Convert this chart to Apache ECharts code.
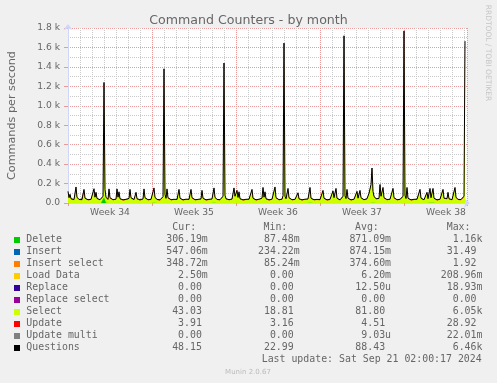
<!DOCTYPE html>
<html>
<head>
<meta charset="utf-8">
<script src="https://cdn.jsdelivr.net/npm/echarts@6/dist/echarts.min.js"></script>
<style>
html,body{margin:0;padding:0;background:#f0f0f0;}
#chart{width:497px;height:383px;}
</style>
</head>
<body>
<div id="chart"></div>
<script>
// ---------------- text ----------------
const chartTitle = 'Command Counters - by month';
const yAxisTitle = 'Commands per second';
const yTickLabels = ['0.0', '0.2 k', '0.4 k', '0.6 k', '0.8 k', '1.0 k', '1.2 k', '1.4 k', '1.6 k', '1.8 k'];
const weekLabels = ['Week 34', 'Week 35', 'Week 36', 'Week 37', 'Week 38'];
const lastUpdate = 'Last update: Sat Sep 21 02:00:17 2024';
const footer = 'Munin 2.0.67';
const watermark = 'RRDTOOL / TOBI OETIKER';

// ---------------- time base ----------------
// x = hours since Mon 19 Aug 00:00; main series sampled every 2 h, small series daily
const sampleStepHours = 2;
const dailyStepHours = 24;

// ---------------- main series (commands per second) ----------------
const questions = [
120,55,90,45,40,38,36,42,165,60,40,37,35,34,36,39,140,50,38,36,
34,33,35,38,41,44,147,60,110,48,40,36,34,33,35,70,1240,140,60,42,
38,145,55,40,36,34,35,37,40,145,60,115,45,38,35,33,34,36,38,41,
43,48,140,55,42,38,36,40,110,45,37,34,33,35,38,42,145,55,40,36,
34,33,35,38,40,45,155,60,42,37,35,34,33,36,40,65,1380,90,48,145,
55,40,36,34,33,35,38,41,39,37,44,140,50,38,35,33,34,36,39,42,
40,38,45,140,55,40,36,34,33,35,37,40,38,43,130,50,39,35,33,34,
36,38,41,39,42,46,155,60,42,37,35,33,34,36,40,70,1440,80,45,38,
36,34,35,38,41,48,155,70,52,130,58,115,45,38,35,33,34,36,38,40,
37,39,42,46,140,50,38,35,33,34,36,39,42,45,50,160,60,115,45,38,
35,33,34,36,39,42,48,165,55,40,36,34,33,35,40,75,1645,70,44,42,
150,55,40,36,34,33,35,38,41,45,105,44,38,35,33,34,36,39,41,44,
42,48,160,50,39,36,34,33,35,37,40,38,36,39,45,130,50,38,35,33,
34,36,38,41,46,125,55,48,150,50,38,35,33,34,40,70,1720,75,46,140,
50,38,35,33,34,36,39,42,47,120,50,46,130,55,40,36,34,35,38,45,
60,100,85,190,360,120,70,52,44,40,42,48,190,70,50,160,55,42,37,35,
34,36,39,42,47,150,55,40,36,34,33,35,38,41,45,70,1770,80,46,160,
50,38,35,33,34,36,38,40,43,39,42,47,140,50,38,35,34,36,44,110,
45,48,150,55,46,150,50,38,35,33,34,36,39,42,46,140,50,40,38,45,
110,44,38,35,34,38,45,160,60,42,37,35,34,36,40,48,70,1665
];
const selectVals = [
111,48,81,38,33,31,29,35,156,53,33,30,28,27,29,32,131,43,31,29,
27,26,28,31,34,37,138,53,101,41,33,29,27,26,28,62,1150,75,50,35,
31,136,48,33,29,27,28,30,33,136,53,106,38,31,28,26,27,29,31,34,
36,41,131,48,35,31,29,33,101,38,30,27,26,28,31,35,136,48,33,29,
27,26,28,31,33,38,146,53,35,30,28,27,26,29,33,57,1355,80,41,136,
48,33,29,27,26,28,31,34,32,30,37,131,43,31,28,26,27,29,32,35,
33,31,38,131,48,33,29,27,26,28,30,33,31,36,121,43,32,28,26,27,
29,31,34,32,35,39,146,53,35,30,28,26,27,29,33,62,1415,70,38,31,
29,27,28,31,34,41,146,62,45,121,50,106,38,31,28,26,27,29,31,33,
30,32,35,39,131,43,31,28,26,27,29,32,35,38,43,151,53,106,38,31,
28,26,27,29,32,35,41,156,48,33,29,27,26,28,33,66,1620,61,37,35,
141,48,33,29,27,26,28,31,34,38,96,37,31,28,26,27,29,32,34,37,
35,41,151,43,32,29,27,26,28,30,33,31,29,32,38,121,43,31,28,26,
27,29,31,34,39,116,48,41,141,43,31,28,26,27,33,62,1695,66,39,131,
43,31,28,26,27,29,32,35,40,111,43,39,121,48,33,29,27,28,31,38,
53,92,78,181,348,111,63,45,37,33,35,41,181,62,43,151,48,35,30,28,
27,29,32,35,40,141,48,33,29,27,26,28,31,34,38,62,1745,70,39,151,
43,31,28,26,27,29,31,33,36,32,35,40,131,43,31,28,27,29,37,101,
38,41,141,48,39,141,43,31,28,26,27,29,32,35,39,131,43,33,31,38,
101,37,31,28,27,31,38,151,53,35,30,28,27,29,33,41,62,1640
];
const deleteVals = [
1.2,0.8,0.9,0.7,0.6,0.5,0.4,0.5,1.4,0.9,0.6,0.5,0.4,0.4,0.5,0.6,1.1,0.8,0.6,0.5,
0.4,0.4,0.5,0.6,0.7,0.8,1.3,0.9,1.0,0.7,0.6,0.5,0.4,0.4,0.5,1.5,60,55,3.0,0.7,
0.6,1.2,0.8,0.6,0.5,0.4,0.4,0.5,0.6,1.3,0.9,1.0,0.7,0.6,0.5,0.4,0.4,0.5,0.6,0.7,
0.7,0.8,1.2,0.8,0.6,0.5,0.4,0.6,1.0,0.7,0.5,0.4,0.4,0.5,0.6,0.7,1.3,0.8,0.6,0.5,
0.4,0.4,0.5,0.6,0.6,0.7,1.4,0.9,0.6,0.5,0.5,0.4,0.4,0.5,0.6,0.9,2.1,1.1,0.7,1.3,
0.8,0.6,0.5,0.4,0.4,0.5,0.6,0.7,0.6,0.5,0.7,1.2,0.8,0.6,0.5,0.4,0.4,0.5,0.6,0.7,
0.6,0.6,0.7,1.2,0.8,0.6,0.5,0.4,0.4,0.5,0.5,0.6,0.6,0.7,1.1,0.8,0.6,0.5,0.4,0.4,
0.5,0.6,0.7,0.6,0.7,0.8,1.4,0.9,0.6,0.5,0.5,0.4,0.4,0.5,0.6,1.0,2.3,1.2,0.7,0.6,
0.5,0.4,0.5,0.6,0.7,0.8,1.3,1.0,0.8,1.1,0.9,1.0,0.7,0.6,0.5,0.4,0.4,0.5,0.6,0.6,
0.5,0.6,0.7,0.7,1.2,0.8,0.6,0.5,0.4,0.4,0.5,0.6,0.7,0.7,0.8,1.4,0.9,1.0,0.7,0.6,
0.5,0.4,0.4,0.5,0.6,0.7,0.8,1.4,0.8,0.6,0.5,0.4,0.4,0.5,0.6,1.1,2.4,1.0,0.7,0.7,
1.3,0.8,0.6,0.5,0.4,0.4,0.5,0.6,0.7,0.7,0.9,0.7,0.6,0.5,0.4,0.4,0.5,0.6,0.6,0.7,
0.7,0.8,1.4,0.8,0.6,0.5,0.4,0.4,0.5,0.6,0.6,0.6,0.5,0.6,0.7,1.1,0.8,0.6,0.5,0.4,
0.4,0.5,0.6,0.7,0.8,1.1,0.8,0.8,1.3,0.8,0.6,0.5,0.4,0.4,0.6,1.0,2.5,1.1,0.7,1.2,
0.8,0.6,0.5,0.4,0.4,0.5,0.6,0.7,0.8,1.0,0.8,0.7,1.1,0.8,0.6,0.5,0.4,0.5,0.6,0.7,
0.9,1.4,1.2,2.2,3.6,1.5,1.0,0.8,0.7,0.6,0.7,0.8,2.0,1.0,0.8,1.4,0.8,0.6,0.5,0.5,
0.4,0.5,0.6,0.7,0.8,1.3,0.8,0.6,0.5,0.4,0.4,0.5,0.6,0.7,0.7,1.0,2.6,1.2,0.7,1.4,
0.8,0.6,0.5,0.4,0.4,0.5,0.6,0.6,0.7,0.6,0.7,0.8,1.2,0.8,0.6,0.5,0.4,0.5,0.7,1.0,
0.7,0.8,1.3,0.8,0.7,1.3,0.8,0.6,0.5,0.4,0.4,0.5,0.6,0.7,0.8,1.2,0.8,0.6,0.6,0.7,
1.0,0.7,0.6,0.5,0.4,0.6,0.7,1.4,0.9,0.6,0.5,0.5,0.4,0.5,0.6,0.7,1.0,2.4
];
const updateVals = [
4.8,4.2,4.5,4.0,3.8,3.6,3.5,3.7,5.2,4.4,3.9,3.7,3.5,3.4,3.5,3.8,5.0,4.3,3.9,3.7,
3.5,3.4,3.5,3.7,3.9,4.1,5.1,4.4,4.8,4.1,3.9,3.6,3.5,3.4,3.5,4.6,18.5,6.2,4.5,4.0,
3.8,5.0,4.3,3.9,3.6,3.5,3.5,3.7,3.9,5.1,4.4,4.8,4.1,3.8,3.5,3.4,3.4,3.6,3.8,4.0,
4.1,4.3,5.0,4.4,4.0,3.8,3.6,3.9,4.7,4.1,3.7,3.5,3.4,3.5,3.8,4.0,5.1,4.4,3.9,3.6,
3.5,3.4,3.5,3.7,3.9,4.2,5.3,4.5,4.0,3.7,3.5,3.4,3.4,3.6,3.9,4.8,21.3,5.4,4.2,5.0,
4.4,3.9,3.6,3.5,3.4,3.5,3.7,4.0,3.9,3.7,4.1,5.0,4.3,3.8,3.5,3.4,3.4,3.6,3.8,4.0,
3.9,3.8,4.2,5.0,4.4,3.9,3.6,3.5,3.4,3.5,3.6,3.9,3.8,4.1,4.9,4.3,3.8,3.5,3.4,3.4,
3.6,3.8,4.0,3.9,4.1,4.3,5.3,4.5,4.0,3.7,3.5,3.4,3.4,3.6,3.9,4.9,24.1,5.6,4.3,3.8,
3.6,3.5,3.5,3.8,4.0,4.4,5.3,4.8,4.3,5.0,4.5,4.8,4.1,3.8,3.5,3.4,3.4,3.6,3.8,3.9,
3.7,3.9,4.1,4.3,5.0,4.3,3.8,3.5,3.4,3.4,3.6,3.9,4.1,4.3,4.5,5.2,4.5,4.8,4.1,3.8,
3.5,3.4,3.4,3.6,3.9,4.1,4.4,5.4,4.4,3.9,3.6,3.4,3.4,3.5,3.9,5.0,26.8,5.3,4.2,4.1,
5.1,4.4,3.9,3.6,3.4,3.4,3.5,3.8,4.0,4.3,4.8,4.2,3.8,3.5,3.4,3.4,3.6,3.9,4.0,4.2,
4.1,4.4,5.3,4.3,3.9,3.6,3.4,3.4,3.5,3.7,3.9,3.8,3.6,3.9,4.3,4.9,4.3,3.8,3.5,3.4,
3.4,3.6,3.8,4.0,4.3,4.9,4.4,4.4,5.1,4.3,3.8,3.5,3.4,3.4,3.9,4.9,28.9,5.5,4.3,5.0,
4.3,3.8,3.5,3.4,3.4,3.6,3.9,4.1,4.4,4.8,4.3,4.2,4.9,4.4,3.9,3.6,3.4,3.5,3.8,4.2,
4.7,5.4,5.0,6.8,9.6,5.3,4.8,4.4,4.2,3.9,4.1,4.4,6.2,4.8,4.4,5.2,4.4,4.0,3.7,3.5,
3.4,3.6,3.9,4.1,4.4,5.2,4.4,3.9,3.6,3.4,3.4,3.5,3.8,4.0,4.3,4.8,27.5,5.6,4.3,5.2,
4.4,3.8,3.5,3.4,3.4,3.6,3.8,3.9,4.1,3.9,4.1,4.4,5.0,4.3,3.8,3.5,3.4,3.6,4.2,4.8,
4.3,4.4,5.2,4.4,4.3,5.2,4.3,3.8,3.5,3.4,3.4,3.6,3.9,4.1,4.3,5.0,4.3,3.9,3.8,4.2,
4.8,4.2,3.8,3.5,3.4,3.8,4.2,5.2,4.5,4.0,3.7,3.5,3.4,3.6,3.9,4.4,4.8,25.0
];

// ---------------- small series (daily readings) ----------------
const insertVals = [0.62,0.88,1.05,0.93,0.71,0.84,1.12,0.97,0.76,0.69,0.91,1.08,0.95,0.82,0.73,0.88,1.02,0.94,0.79,0.67,0.86,1.10,0.98,0.81,0.72,0.90,1.04,0.92,0.77,0.70,0.89,1.06,0.85,0.55];
const insertSelectVals = [0.31,0.42,0.38,0.35,0.40,0.33,0.45,0.39,0.36,0.34,0.41,0.37,0.32,0.43,0.38,0.36,0.39,0.35,0.42,0.33,0.37,0.40,0.36,0.38,0.34,0.41,0.39,0.35,0.37,0.40,0.33,0.38,0.36,0.35];
const loadDataVals = [0.005,0.007,0.006,0.004,0.008,0.006,0.005,0.007,0.006,0.009,0.005,0.006,0.007,0.004,0.006,0.008,0.005,0.006,0.007,0.005,0.006,0.004,0.007,0.006,0.008,0.005,0.006,0.007,0.005,0.006,0.004,0.007,0.006,0.003];
const replaceVals = [0,0,0,0,0,0,0,0,0,0,0,0,0.0004,0,0,0,0,0,0,0,0,0,0,0,0,0,0,0,0,0,0,0,0,0];
const replaceSelectVals = [0,0,0,0,0,0,0,0,0,0,0,0,0,0,0,0,0,0,0,0,0,0,0,0,0,0,0,0,0,0,0,0,0,0];
const updateMultiVals = [0,0,0,0,0,0,0,0,0,0,0,0,0,0,0,0,0,0,0,0,0.0003,0,0,0,0,0,0,0,0,0,0,0,0,0];

// ---------------- legend table ----------------
const legendNames = ['Delete','Insert','Insert select','Load Data','Replace','Replace select','Select','Update','Update multi','Questions'];
const legendColors = ['#00cc00','#0066b3','#ff8000','#ffcc00','#330099','#990099','#ccff00','#ff0000','#808080','#000000'];
const legendHeaders = ['Cur:','Min:','Avg:','Max:'];
const curVals = ['306.19m','547.06m','348.72m','2.50m','0.00','0.00','43.03','3.91','0.00','48.15'];
const minVals = ['87.48m','234.22m','85.24m','0.00','0.00','0.00','18.81','3.16','0.00','22.99'];
const avgVals = ['871.09m','874.15m','374.60m','6.20m','12.50u','0.00','81.80','4.51','9.03u','88.43'];
const maxVals = ['1.16k','31.49','1.92','208.96m','18.93m','0.00','6.05k','28.92','22.01m','6.46k'];

// ---------------- build ----------------
const FONT = 'DejaVu Sans';
const MONO = 'DejaVu Sans Mono';
const TXT = '#666666';
const AXISC = '#cfd6f8';
const MGRID = '#eb9a9a';
const GRID = '#c9c9c9';

const toXY = (vals, step) => vals.map((v, i) => [i * step, v]);
const layerDS = selectVals.map((v, i) => v + deleteVals[i]);
const layerDSU = layerDS.map((v, i) => v + updateVals[i]);

function areaSeries(name, xy, color) {
  return {
    name: name, type: 'line', data: xy, symbol: 'none', showSymbol: false,
    lineStyle: { width: 0, color: color }, itemStyle: { color: color },
    areaStyle: { color: color, opacity: 1 }, silent: true, sampling: null
  };
}

const series = [
  areaSeries('Update multi', toXY(updateMultiVals, dailyStepHours), legendColors[8]),
  areaSeries('Replace select', toXY(replaceSelectVals, dailyStepHours), legendColors[5]),
  areaSeries('Replace', toXY(replaceVals, dailyStepHours), legendColors[4]),
  areaSeries('Load Data', toXY(loadDataVals, dailyStepHours), legendColors[3]),
  areaSeries('Insert select', toXY(insertSelectVals, dailyStepHours), legendColors[2]),
  areaSeries('Insert', toXY(insertVals, dailyStepHours), legendColors[1]),
  areaSeries('Update', toXY(layerDSU, sampleStepHours), legendColors[7]),
  areaSeries('Select', toXY(layerDS, sampleStepHours), legendColors[6]),
  areaSeries('Delete', toXY(deleteVals, sampleStepHours), legendColors[0]),
  {
    name: 'Questions', type: 'line', data: toXY(questions, sampleStepHours),
    symbol: 'none', showSymbol: false, silent: true,
    lineStyle: { width: 1, color: '#000000' }, itemStyle: { color: '#000000' }
  }
];

// legend table graphics
const graphics = [];
const rowY0 = 239.6, rowStep = 12;
const colStart = [166.2, 258.0, 349.4, 440.8];
const headerX = [172.3, 263.5, 355.0, 446.7];
const monoFont = '9.9px "' + MONO + '"';
function monoText(x, y, text) {
  graphics.push({ type: 'text', x: x, y: y, silent: true,
    style: { text: text, font: monoFont, fill: TXT, textAlign: 'left', textVerticalAlign: 'middle' } });
}
function fmt(v) { return (/[0-9]$/.test(v) ? v + ' ' : v).padStart(7, ' '); }
legendHeaders.forEach((h, j) => monoText(headerX[j], 227.5, h));
legendNames.forEach((n, i) => {
  const y = rowY0 + rowStep * i;
  graphics.push({ type: 'rect', silent: true, shape: { x: 14, y: Math.round(y) - 3, width: 6, height: 6 },
    style: { fill: legendColors[i] } });
  monoText(26.3, y, n);
  [curVals, minVals, avgVals, maxVals].forEach((arr, j) => monoText(colStart[j], y, fmt(arr[i])));
});
monoText(261.7, rowY0 + rowStep * 10, lastUpdate);
graphics.push({ type: 'text', x: 248, y: 372, silent: true,
  style: { text: footer, font: '7px "' + FONT + '"', fill: '#bbbbbb', textAlign: 'center', textVerticalAlign: 'middle' } });
graphics.push({ type: 'text', x: 488, y: 53, rotation: -Math.PI / 2, silent: true,
  style: { text: watermark, font: '7.5px "' + FONT + '"', fill: '#c6c6c6', textAlign: 'center', textVerticalAlign: 'middle' } });

const xMin = 0, xMax = 798;
const option = {
  animation: false,
  backgroundColor: '#f0f0f0',
  textStyle: { fontFamily: FONT },
  title: {
    text: chartTitle, left: 'center', top: 9,
    textStyle: { fontFamily: FONT, fontSize: 12.6, fontWeight: 'normal', color: TXT }
  },
  grid: {
    left: 68, top: 28, width: 399, height: 175,
    show: true, backgroundColor: '#ffffff', borderWidth: 0, containLabel: false, outerBoundsMode: 'none'
  },
  xAxis: [
    { // daily grid
      type: 'value', position: 'bottom', min: xMin, max: xMax, interval: 24,
      axisLine: { show: false },
      axisTick: { show: false }, axisLabel: { show: false },
      splitLine: { show: true, lineStyle: { color: GRID, width: 1, type: [1, 1] } }
    },
    { // weekly grid
      type: 'value', position: 'bottom', min: xMin, max: xMax, interval: 168,
      axisLine: { show: false },
      axisTick: { show: true, length: 3, lineStyle: { color: MGRID } },
      axisLabel: { show: false },
      splitLine: { show: true, lineStyle: { color: MGRID, width: 1, type: [1, 1] } }
    },
    { // axis line + week labels in the middle of each week
      type: 'value', position: 'bottom', min: xMin, max: xMax, interval: 84,
      axisLine: { show: true, lineStyle: { color: AXISC, width: 1 }, symbol: ['none', 'arrow'], symbolSize: [7, 6], symbolOffset: [0, 3] },
      axisTick: { show: false }, splitLine: { show: false },
      axisLabel: {
        show: true, margin: 5, fontSize: 9.2, color: TXT, fontFamily: FONT,
        formatter: function (v) {
          const k = (v - 84) / 168;
          return (Number.isInteger(k) && weekLabels[k]) ? weekLabels[k] : '';
        }
      }
    }
  ],
  yAxis: {
    type: 'value', position: 'left', min: 0, max: 1800, interval: 200,
    name: yAxisTitle, nameLocation: 'middle', nameGap: 50,
    nameTextStyle: { fontSize: 11.2, color: TXT, fontFamily: FONT },
    axisLine: { show: true, lineStyle: { color: AXISC, width: 1 }, symbol: ['none', 'arrow'], symbolSize: [7, 6], symbolOffset: [0, 4] },
    axisTick: { show: true, length: 4, lineStyle: { color: MGRID } },
    axisLabel: {
      margin: 8, fontSize: 9.2, color: TXT, fontFamily: FONT,
      formatter: function (v) { return yTickLabels[Math.round(v / 200)]; }
    },
    splitLine: { show: true, lineStyle: { color: MGRID, width: 1, type: [1, 1] } },
    minorTick: { show: false, splitNumber: 2 },
    minorSplitLine: { show: true, lineStyle: { color: GRID, width: 1, type: [1, 1] } }
  },
  series: series,
  graphic: graphics
};

const chart = echarts.init(document.getElementById('chart'), null, { renderer: 'canvas' });
chart.setOption(option);
</script>
</body>
</html>
